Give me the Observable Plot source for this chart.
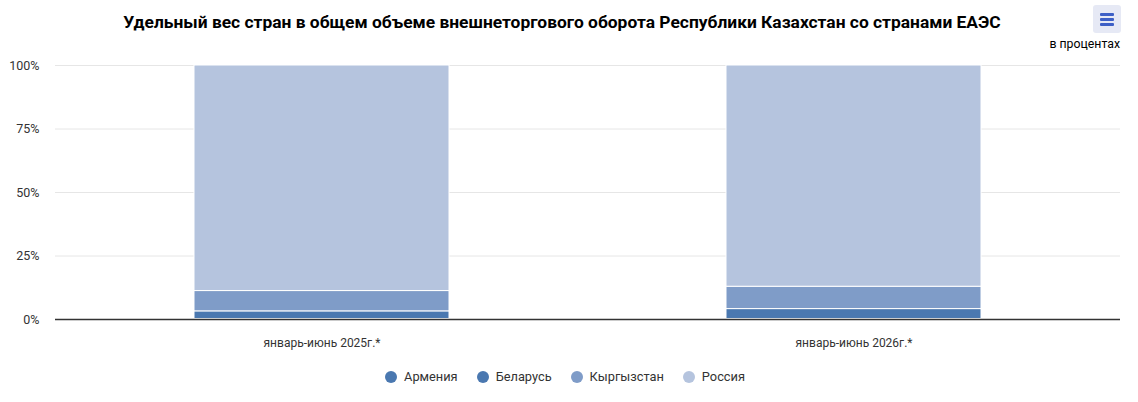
<!DOCTYPE html>
<html><head><meta charset="utf-8">
<script src="https://cdn.jsdelivr.net/npm/d3@7"></script>
<script src="https://cdn.jsdelivr.net/npm/@observablehq/plot@0.6"></script>
<style>
body{margin:0;background:#fff;font-family:Roboto,"Liberation Sans",sans-serif;}
#wrap{position:relative;width:1138px;height:402px;overflow:hidden;}
#title{position:absolute;left:0;top:12px;width:1124px;text-align:center;font-size:17.4px;font-weight:bold;color:#000;}
#sub{position:absolute;right:18px;top:37px;font-size:12.3px;color:#000;}
#menu{position:absolute;left:1093px;top:5px;width:28px;height:28px;background:#e6e9f5;border-radius:3px;}
#menu span{position:absolute;left:7px;width:14px;height:2.5px;background:#3d5fc6;border-radius:1px;}
#legend{position:absolute;top:369px;left:0;width:1130px;display:flex;justify-content:center;gap:0;font-size:12.8px;color:#333;}
.li{display:flex;align-items:center;margin:0 9.5px;}
.dot{width:12px;height:12px;border-radius:50%;margin-right:7px;}
#chart{position:absolute;left:0;top:0;}
</style></head>
<body><div id="wrap">
<div id="chart"></div>
<div id="title">Удельный вес стран в общем объеме внешнеторгового оборота Республики Казахстан со странами ЕАЭС</div>
<div id="sub">в процентах</div>
<div id="menu"><span style="top:8px"></span><span style="top:13px"></span><span style="top:18px"></span></div>
<div id="legend"></div>
</div>
<script>
const periods = ["январь-июнь 2025г.*", "январь-июнь 2026г.*"];
const series = ["Армения", "Беларусь", "Кыргызстан", "Россия"];
const colors = ["#4a78b0", "#4a78b0", "#7f9cc8", "#b5c4de"];
const armenia = [0.2, 0.2];
const belarus = [3.0, 3.9];
const kyrgyzstan = [8.0, 8.8];
const russia = [88.8, 87.1];
const yTicks = [0, 25, 50, 75, 100];

const values = [armenia, belarus, kyrgyzstan, russia];
const data = [];
periods.forEach((p, i) => series.forEach((s, j) => data.push({period: p, country: s, value: values[j][i]})));

const chart = Plot.plot({
  width: 1138, height: 355,
  marginTop: 65, marginBottom: 36, marginLeft: 55, marginRight: 18,
  style: {fontFamily: "Roboto, sans-serif", fontSize: "12px", color: "#333", background: "transparent"},
  x: {domain: periods, paddingInner: 0.52, paddingOuter: 0.26, label: null},
  y: {domain: [0, 100], ticks: yTicks, label: null},
  color: {domain: series, range: colors},
  marks: [
    Plot.gridY(yTicks, {stroke: "#e6e6e6", strokeOpacity: 1}),
    Plot.axisY({ticks: yTicks, tickSize: 0, tickPadding: 16, tickFormat: d => d + "%", fontSize: 12.5, fill: "#333"}),
    Plot.axisX({tickSize: 0, tickPadding: 19, fontSize: 12, fill: "#333"}),
    Plot.barY(data, Plot.stackY({order: series}, {x: "period", y: "value", fill: "country", stroke: "white", strokeWidth: 1})),
    Plot.ruleY([0], {stroke: "#333", strokeWidth: 1.5})
  ]
});
document.getElementById("chart").appendChild(chart);

const lg = document.getElementById("legend");
series.forEach((s, i) => {
  const d = document.createElement("div"); d.className = "li";
  d.innerHTML = `<span class="dot" style="background:${colors[i]}"></span><span>${s}</span>`;
  lg.appendChild(d);
});
</script>
</body></html>
